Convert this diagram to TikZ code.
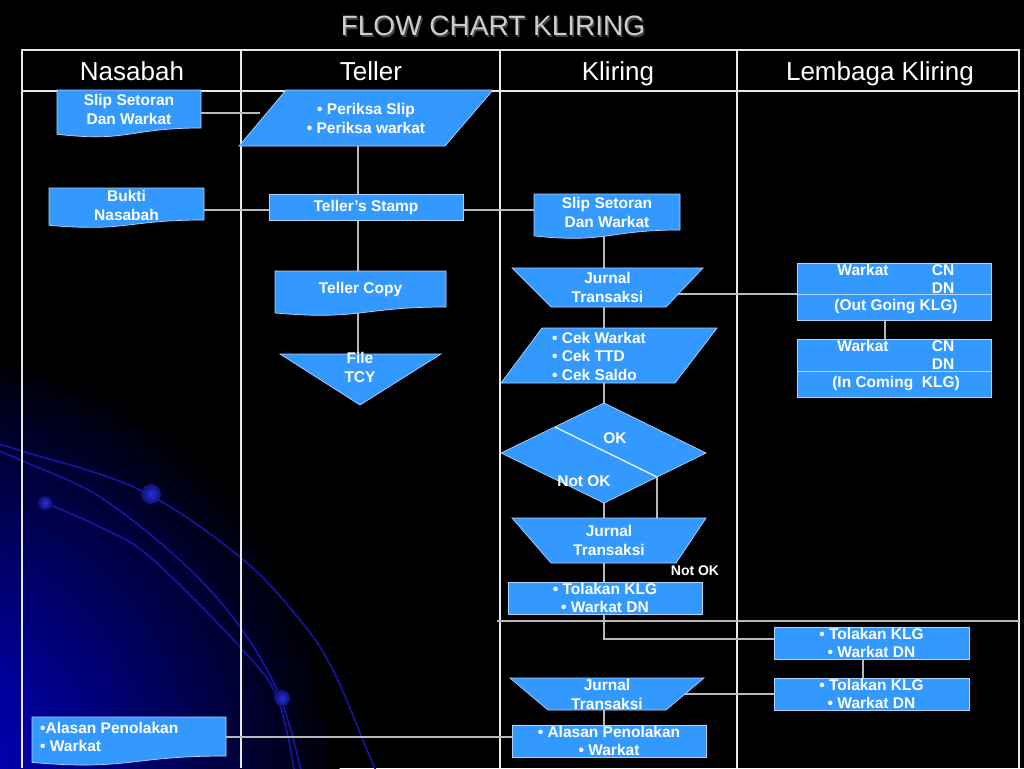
\documentclass[tikz,border=0pt]{standalone}
\usepackage{fontspec}
\setmainfont{Liberation Sans}
\usetikzlibrary{calc}
\pgfdeclarelayer{back}
\pgfdeclarelayer{conns}
\pgfdeclarelayer{shapes}
\pgfsetlayers{back,conns,shapes,main}
\definecolor{fillblue}{RGB}{51,153,255}
\definecolor{edgec}{RGB}{175,212,255}
\definecolor{connc}{RGB}{185,185,185}
\definecolor{gridc}{RGB}{232,232,232}
\definecolor{glowa}{RGB}{0,0,215}
\definecolor{arcc}{RGB}{22,22,165}
\definecolor{dotc}{RGB}{40,50,215}
\definecolor{titlec}{RGB}{205,205,205}
\definecolor{titlesh}{RGB}{70,70,70}
\newcommand{\myNodeFont}{\bfseries\fontsize{15.5}{19}\selectfont}
\newcommand{\mydoc}[4]{%
  \pgfmathsetmacro\mydH{(#4-#3)/0.802}%
  \pgfmathsetmacro\mydL{#3+0.934*\mydH}%
  \pgfmathsetmacro\mydC{#3+1.107*\mydH}%
  \pgfmathsetmacro\mydM{(#1+#2)/2}%
  \filldraw[shp] (#1,#3) -- (#2,#3) -- (#2,#4) .. controls (\mydM,#4) and (\mydM,\mydC) .. (#1,\mydL) -- cycle;}
\begin{document}
\begin{tikzpicture}[x=1pt,y=-1pt,
  shp/.style={fill=fillblue, draw=edgec, line width=0.7pt},
  area/.style={inner sep=0pt, outer sep=0pt, text=white, font=\myNodeFont, align=center},
  rbox/.style={area, shp},
  lbl/.style={inner sep=0pt, text=white, font=\myNodeFont},
  conn/.style={draw=connc, line width=1.4pt},
  gridl/.style={draw=gridc, line width=1.5pt},
  hdr/.style={text=white, font=\fontsize{26}{28}\selectfont, inner sep=0pt, anchor=base},
  arcl/.style={draw=arcc, line width=1.6pt},
  divl/.style={draw=edgec, line width=1pt}]
\useasboundingbox (0,0) rectangle (1024,768);

% ---------- background ----------
\begin{pgfonlayer}{back}
  \fill[black] (0,0) rectangle (1024,768);
  \begin{scope}
    \clip (0,0) rectangle (1024,768);
    \foreach \i in {0,...,59} {
      \pgfmathsetmacro\gf{\i/60}
      \pgfmathsetmacro\gpc{100*(\gf)^0.9}
      \pgfmathsetmacro\grx{420*(1-\gf)}
      \pgfmathsetmacro\gry{440*(1-\gf)}
      \fill[glowa!\gpc!black] (-80,785) ellipse[x radius=\grx pt, y radius=\gry pt];
    }
    \draw[arcl] plot[smooth, tension=0.6] coordinates {(-10,442) (25,452) (140,490) (240,557) (300,620) (333,670) (367,750) (378,775)};
    \draw[arcl] plot[smooth, tension=0.6] coordinates {(-10,447) (25,462) (100,497) (183,563) (240,627) (280,697) (302,775)};
    \draw[arcl] plot[smooth, tension=0.6] coordinates {(45,503) (100,527) (150,557) (240,647) (277,697) (295,775)};
    \shade[inner color=dotc, outer color=arcc!70!black] (151,494) circle[radius=10pt];
    \shade[inner color=dotc, outer color=arcc!70!black] (45,503) circle[radius=7pt];
    \shade[inner color=dotc, outer color=arcc!70!black] (282,698) circle[radius=8pt];
  \end{scope}
  % table
  \draw[gridl] (22,768) -- (22,50) -- (1019,50) -- (1019,768);
  \draw[gridl] (22,91) -- (1019,91);
  \draw[gridl] (241,50) -- (241,768);
  \draw[gridl] (500,50) -- (500,768);
  \draw[gridl] (737,50) -- (737,768);
\end{pgfonlayer}

% ---------- title and headers ----------
\node[text=titlesh, font=\fontsize{28}{30}\selectfont, inner sep=0pt, anchor=base] (titlesh) at (494.5,37.5) {FLOW CHART KLIRING};
\node[text=titlec, font=\fontsize{28}{30}\selectfont, inner sep=0pt, anchor=base] (title) at (493,36) {FLOW CHART KLIRING};
\node[hdr] (h1) at (132,81) {Nasabah};
\node[hdr] (h2) at (371,81) {Teller};
\node[hdr] (h3) at (618,81) {Kliring};
\node[hdr] (h4) at (880,81) {Lembaga Kliring};

% ---------- Nasabah ----------
\node[area, minimum width=144pt, minimum height=38pt] (slipN) at (129,109) {Slip Setoran\\Dan Warkat};
\begin{pgfonlayer}{shapes}\mydoc{57}{201}{90}{128}\end{pgfonlayer}

\node[area, minimum width=155pt, minimum height=32pt] (bukti) at (126.5,205) {Bukti\\Nasabah};
\begin{pgfonlayer}{shapes}\mydoc{49}{204}{188}{220}\end{pgfonlayer}

\node[area, minimum width=194pt, minimum height=39pt] (alasanN) at (129,736.5) {};
\node[lbl, align=left, anchor=west, font=\bfseries\fontsize{15.5}{18.5}\selectfont] (alasanNt) at (40,737) {•Alasan Penolakan\\• Warkat};
\begin{pgfonlayer}{shapes}\mydoc{32}{226}{717}{756}\end{pgfonlayer}

% ---------- Teller ----------
\node[area, minimum width=254pt, minimum height=56pt] (periksa) at (366,118) {• Periksa Slip\\• Periksa warkat};
\begin{pgfonlayer}{shapes}
  \filldraw[shp] (286,90) -- (493,90) -- (445,146) -- (239,146) -- cycle;
\end{pgfonlayer}

\node[rbox, minimum width=194pt, minimum height=26pt] (stamp) at (366,207) {Teller’s Stamp};

\node[area, minimum width=171pt, minimum height=36pt] (tcopy) at (360.5,289) {Teller Copy};
\begin{pgfonlayer}{shapes}\mydoc{275}{446}{271}{307}\end{pgfonlayer}

\node[area, minimum width=161pt, minimum height=51pt] (tcy) at (360.5,379.5) {};
\node[lbl, align=center] (tcyt) at (360,367) {File\\TCY};
\begin{pgfonlayer}{shapes}
  \filldraw[shp] (280,354) -- (441,354) -- (360,405) -- cycle;
\end{pgfonlayer}

% ---------- Kliring ----------
\node[area, minimum width=146pt, minimum height=36pt] (slipK) at (607,212) {Slip Setoran\\Dan Warkat};
\begin{pgfonlayer}{shapes}\mydoc{534}{680}{194}{230}\end{pgfonlayer}

\node[area, minimum width=191pt, minimum height=39pt] (jurnal1) at (607.5,287.5) {Jurnal\\Transaksi};
\begin{pgfonlayer}{shapes}
  \filldraw[shp] (512,268) -- (703,268) -- (666,307) -- (551,307) -- cycle;
\end{pgfonlayer}

\node[area, minimum width=216pt, minimum height=55pt] (cek) at (609,355.5) {};
\node[lbl, align=left, anchor=west, font=\bfseries\fontsize{15.5}{18.5}\selectfont] (cekt) at (552,356) {• Cek Warkat\\• Cek TTD\\• Cek Saldo};
\begin{pgfonlayer}{shapes}
  \filldraw[shp] (542,328) -- (717,328) -- (675,383) -- (501,383) -- cycle;
\end{pgfonlayer}

\node[area, minimum width=205pt, minimum height=100pt] (dec) at (603.5,453) {};
\begin{pgfonlayer}{shapes}
  \filldraw[shp] (604,403) -- (706,453) -- (604,503) -- (501,453) -- cycle;
\end{pgfonlayer}
\coordinate (dv1) at (555,427);
\coordinate (dv2) at (657,477);
\draw[draw=white!90!fillblue, line width=1.3pt] (dv1) -- (dv2);
\node[lbl] (okt) at (615,438) {OK};
\node[lbl] (notokt) at (584,481) {Not OK};

\node[area, minimum width=194pt, minimum height=45pt] (jurnal2) at (609,540.5) {Jurnal\\Transaksi};
\begin{pgfonlayer}{shapes}
  \filldraw[shp] (512,518) -- (706,518) -- (676,563) -- (551,563) -- cycle;
\end{pgfonlayer}
\node[lbl, font=\bfseries\fontsize{14}{16}\selectfont] (notok2) at (695,571) {Not OK};

\node[rbox, minimum width=194pt, minimum height=32pt, font=\bfseries\fontsize{15.5}{18}\selectfont] (tolak1) at (605,598) {• Tolakan KLG\\• Warkat DN};

\node[area, minimum width=194pt, minimum height=32pt] (jurnal3) at (607,694) {Jurnal\\Transaksi};
\begin{pgfonlayer}{shapes}
  \filldraw[shp] (510,678) -- (704,678) -- (666,710) -- (548,710) -- cycle;
\end{pgfonlayer}

\node[rbox, minimum width=194pt, minimum height=32pt, font=\bfseries\fontsize{15.5}{18}\selectfont] (alasanK) at (609,741) {• Alasan Penolakan\\• Warkat};

% ---------- Lembaga Kliring ----------
\node[rbox, minimum width=194pt, minimum height=57pt] (outg) at (894,291.5) {};
\draw[divl] (797,294) -- (991,294);
\node[lbl] (outw) at (863,270) {Warkat};
\node[lbl] (outcn) at (943,270) {CN};
\node[lbl] (outdn) at (943,288) {DN};
\node[lbl] (outt) at (896,307) {(Out Going KLG)};

\node[rbox, minimum width=194pt, minimum height=58pt] (incg) at (894,368) {};
\draw[divl] (797,371) -- (991,371);
\node[lbl] (inw) at (863,346) {Warkat};
\node[lbl] (incn) at (943,346) {CN};
\node[lbl] (indn) at (943,364) {DN};
\node[lbl] (int) at (896,384) {(In Coming\ \ KLG)};

\node[rbox, minimum width=195pt, minimum height=32pt, font=\bfseries\fontsize{15.5}{18}\selectfont] (tolak2) at (871.5,643) {• Tolakan KLG\\• Warkat DN};
\node[rbox, minimum width=195pt, minimum height=32pt, font=\bfseries\fontsize{15.5}{18}\selectfont] (tolak3) at (871.5,694) {• Tolakan KLG\\• Warkat DN};

% ---------- connectors ----------
\coordinate (pin) at (260,113);
\coordinate (tx) at (358,0);
\coordinate (r2) at (0,210);
\coordinate (kx) at (604,0);
\coordinate (r3) at (0,294);
\coordinate (lkx) at (885,0);
\coordinate (r4) at (0,639);
\coordinate (tkx) at (863,0);
\coordinate (r5) at (0,737);
\coordinate (sepl) at (497,621);
\coordinate (sepr) at (1019,621);
\begin{pgfonlayer}{conns}
  \draw[conn] (slipN.east |- pin) -- (pin);
  \draw[conn] (periksa.south -| tx) -- (tcy.north -| tx);
  \draw[conn] (bukti.east |- r2) -- (slipK.west |- r2);
  \draw[conn] (slipK.south -| kx) -- (tolak1.south -| kx) -- (kx |- r4) -- (tolak2.west |- r4);
  \draw[conn] (jurnal1.center |- r3) -- (outg.west |- r3);
  \draw[conn] (outg.south -| lkx) -- (incg.north -| lkx);
  \draw[conn] (dv2) -- (dv2 |- jurnal2.north);
  \draw[conn] (sepl) -- (sepr);
  \draw[conn] (tolak2.south -| tkx) -- (tolak3.north -| tkx);
  \draw[conn] (jurnal3.center) -- (tolak3.west);
  \draw[conn] (jurnal3.south -| kx) -- (alasanK.north -| kx);
  \draw[conn] (alasanN.east |- r5) -- (alasanK.west |- r5);
\end{pgfonlayer}
\end{tikzpicture}
\end{document}
